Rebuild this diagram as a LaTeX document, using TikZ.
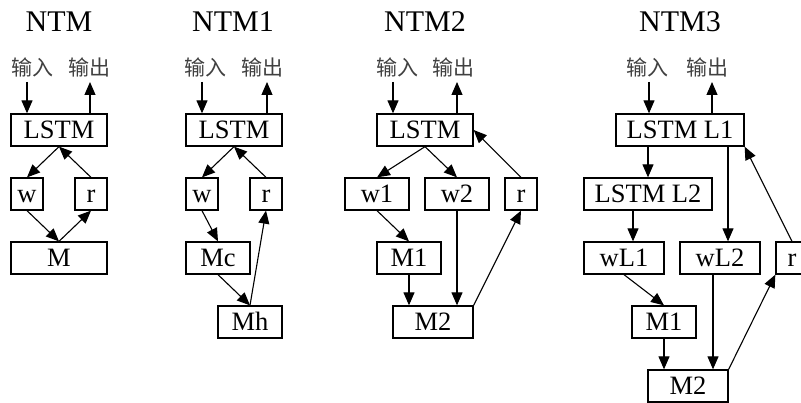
\documentclass[tikz,border=0pt]{standalone}
\usepackage{fontspec}
\setmainfont{Liberation Serif}
\newfontfamily\cjk{Noto Sans CJK SC}
\usetikzlibrary{arrows.meta}
\tikzset{
  blk/.style={draw, line width=1.3pt, minimum height=32pt, inner sep=0pt,
    text height=17pt, text depth=0pt, font=\fontsize{26.5}{30}\selectfont},
  ttl/.style={font=\fontsize{30}{36}\selectfont},
  iolbl/.style={font=\cjk\fontsize{21}{24}\selectfont, text=black!75},
  arr/.style={-{Triangle[length=13pt,width=11pt]}, line width=1.1pt},
}

\begin{document}
\begin{tikzpicture}[x=1pt, y=-1pt]
  \useasboundingbox (0,0) rectangle (801,403);

  % NTM
  \node[ttl] (t0) at (59,22) {NTM};
  \node[iolbl] (in0) at (33,67) {输入};
  \node[iolbl] (out0) at (89,67) {输出};
  \coordinate (i0) at (27,82);
  \coordinate (o0) at (90,82);
  \node[blk, minimum width=96pt] (L0) at (59,130) {LSTM};
  \node[blk, minimum width=32pt] (w0) at (27,194) {w};
  \node[blk, minimum width=32pt] (r0) at (91,194) {r};
  \node[blk, minimum width=96pt] (M0) at (59,258) {M};
  \draw[arr] (i0) -- (i0 |- L0.north);
  \draw[arr] (o0 |- L0.north) -- (o0);
  \draw[arr] (L0.south) -- (w0.north);
  \draw[arr] (r0.north) -- (L0.south);
  \draw[arr] (w0.south) -- (M0.north);
  \draw[arr] (M0.north) -- (r0.south);

  % NTM1
  \node[ttl] (t1) at (233,22) {NTM1};
  \node[iolbl] (in1) at (205,67) {输入};
  \node[iolbl] (out1) at (262,67) {输出};
  \coordinate (i1) at (202,82);
  \coordinate (o1) at (267,82);
  \node[blk, minimum width=96pt] (L1) at (234,130) {LSTM};
  \node[blk, minimum width=32pt] (w1) at (202,194) {w};
  \node[blk, minimum width=32pt] (r1) at (266,194) {r};
  \node[blk, minimum width=64pt] (Mc1) at (218,258) {Mc};
  \node[blk, minimum width=64pt] (Mh1) at (250,322) {Mh};
  \draw[arr] (i1) -- (i1 |- L1.north);
  \draw[arr] (o1 |- L1.north) -- (o1);
  \draw[arr] (L1.south) -- (w1.north);
  \draw[arr] (r1.north) -- (L1.south);
  \draw[arr] (w1.south) -- (Mc1.north);
  \draw[arr] (Mc1.south) -- (Mh1.north);
  \draw[arr] (Mh1.north) -- (r1.south);

  % NTM2
  \node[ttl] (t2) at (425,22) {NTM2};
  \node[iolbl] (in2) at (397,67) {输入};
  \node[iolbl] (out2) at (453,67) {输出};
  \coordinate (i2) at (393,82);
  \coordinate (o2) at (457,82);
  \node[blk, minimum width=96pt] (L2) at (425,130) {LSTM};
  \node[blk, minimum width=64pt] (wa2) at (377,194) {w1};
  \node[blk, minimum width=64pt] (wb2) at (457,194) {w2};
  \node[blk, minimum width=32pt] (r2) at (521,194) {r};
  \node[blk, minimum width=64pt] (Ma2) at (409,258) {M1};
  \node[blk, minimum width=80pt] (Mb2) at (433,322) {M2};
  \draw[arr] (i2) -- (i2 |- L2.north);
  \draw[arr] (o2 |- L2.north) -- (o2);
  \draw[arr] (L2.south) -- (wa2.north);
  \draw[arr] (L2.south) -- (wb2.north);
  \draw[arr] (r2.north) -- (L2.east);
  \draw[arr] (wa2.south) -- (Ma2.north);
  \draw[arr] (Ma2.south) -- (Ma2.south |- Mb2.north);
  \draw[arr] (wb2.south) -- (wb2.south |- Mb2.north);
  \draw[arr] (Mb2.north east) -- (r2.south);

  % NTM3
  \node[ttl] (t3) at (680,22) {NTM3};
  \node[iolbl] (in3) at (647,67) {输入};
  \node[iolbl] (out3) at (707,67) {输出};
  \coordinate (i3) at (649,82);
  \coordinate (o3) at (712,82);
  \node[blk, minimum width=128pt] (La3) at (680,130) {LSTM L1};
  \node[blk, minimum width=128pt] (Lb3) at (648,194) {LSTM L2};
  \node[blk, minimum width=80pt] (wa3) at (624,258) {wL1};
  \node[blk, minimum width=80pt] (wb3) at (720,258) {wL2};
  \node[blk, minimum width=32pt] (r3) at (792,258) {r};
  \node[blk, minimum width=64pt] (Ma3) at (664,322) {M1};
  \node[blk, minimum width=80pt] (Mb3) at (688,386) {M2};
  \draw[arr] (i3) -- (i3 |- La3.north);
  \draw[arr] (o3 |- La3.north) -- (o3);
  \draw[arr] (La3.south -| Lb3.north) -- (Lb3.north);
  \draw[arr] ([xshift=9pt]wa3.north |- Lb3.south) -- ([xshift=9pt]wa3.north);
  \draw[arr] ([xshift=8pt]wb3.north |- La3.south) -- ([xshift=8pt]wb3.north);
  \draw[arr] (wa3.south) -- (Ma3.north);
  \draw[arr] (Ma3.south) -- (Ma3.south |- Mb3.north);
  \draw[arr] ([xshift=-7pt]wb3.south) -- ([xshift=-7pt]wb3.south |- Mb3.north);
  \draw[arr] (Mb3.north east) -- (r3.south west);
  \draw[arr] (r3.north) -- (La3.south east);
\end{tikzpicture}
\end{document}
